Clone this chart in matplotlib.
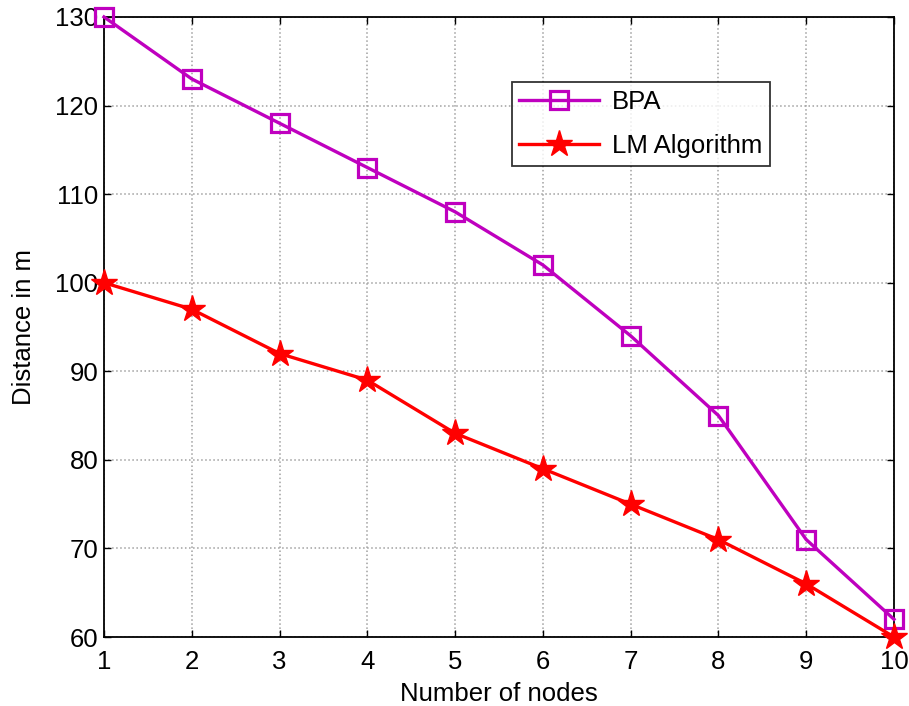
import matplotlib
matplotlib.use("Agg")
import matplotlib.pyplot as plt

plt.rcParams['font.family'] = ['Liberation Sans', 'DejaVu Sans']

# data
nodes = [1, 2, 3, 4, 5, 6, 7, 8, 9, 10]
bpa = [130, 123, 118, 113, 108, 102, 94, 85, 71, 62]
lm = [100, 97, 92, 89, 83, 79, 75, 71, 66, 60]
yticks = [60, 70, 80, 90, 100, 110, 120, 130]

fs = 18.5

fig = plt.figure(figsize=(9.09, 7.06), dpi=100)
ax = fig.add_axes([0.1144, 0.0977, 0.8691, 0.8783])

ax.plot(nodes, bpa, color='#bf00bf', lw=2.4, marker='s', markersize=12.5,
        markerfacecolor='none', markeredgewidth=2.3, label='BPA', clip_on=False, zorder=3)
ax.plot(nodes, lm, color='#ff0000', lw=2.4, marker='*', markersize=20,
        markeredgewidth=1, label='LM Algorithm', clip_on=False, zorder=4)

ax.set_xlim(1, 10)
ax.set_ylim(60, 130)
ax.set_xticks(nodes)
ax.set_yticks(yticks)
ax.tick_params(direction='in', top=True, right=True, labelsize=fs, length=5, width=1)
ax.tick_params(axis='x', pad=9)
ax.tick_params(axis='y', pad=4)
ax.grid(True, color='#a0a0a0', linestyle=':', linewidth=1.1)
for s in ax.spines.values():
    s.set_linewidth(1.3)

ax.set_xlabel('Number of nodes', fontsize=fs, labelpad=6)
ax.set_ylabel('Distance in m', fontsize=fs, labelpad=14)

leg = ax.legend(loc='upper left', bbox_to_anchor=(0.516, 0.895), fontsize=fs,
                frameon=True, fancybox=False, edgecolor='black', borderpad=0.3,
                handlelength=3.1, handletextpad=0.5, labelspacing=0.8, borderaxespad=0)
leg.get_frame().set_linewidth(1.3)

fig.savefig('out.png', dpi=100)
